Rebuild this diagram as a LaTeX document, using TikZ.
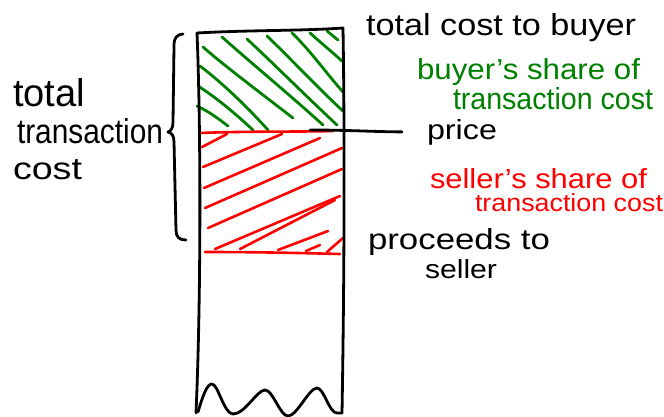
\documentclass[tikz,border=0pt]{standalone}
\usepackage{fontspec}
\setmainfont{Liberation Sans}
\usepackage{graphicx}
\definecolor{hgreen}{RGB}{0,128,0}
\definecolor{hred}{RGB}{255,0,0}
\newcommand{\fitwh}[3]{\resizebox{#1}{#2}{#3}}
\begin{document}
\begin{tikzpicture}[x=1pt,y=-1pt,
  ink/.style={line width=2.8pt, line cap=round, line join=round},
  gh/.style={line width=2.8pt, line cap=round, draw=hgreen},
  rh/.style={line width=2.6pt, line cap=round, draw=hred},
  lbl/.style={inner sep=0pt, outer sep=0pt, anchor=base west}]
\useasboundingbox[fill=white] (0,0) rectangle (664,416);

% green hatching (buyer's share)
\draw[gh] (197,106) .. controls (210,112) and (220,120) .. (228,126);
\draw[gh] (198,86) .. controls (220,100) and (240,118) .. (253,130);
\draw[gh] (200,66) .. controls (225,85) and (250,110) .. (268,130);
\draw[gh] (203,47) .. controls (220,62) and (250,85) .. (293,118);
\draw[gh] (222,37) .. controls (250,62) and (290,95) .. (323,125);
\draw[gh] (247,39) .. controls (275,65) and (310,100) .. (337,125);
\draw[gh] (267,36) .. controls (290,58) and (320,90) .. (343,111);
\draw[gh] (292,33) .. controls (310,50) and (330,78) .. (344,93);
\draw[gh] (310,33) .. controls (320,42) and (332,52) .. (342,61);
\draw[gh] (327,31) -- (338,40);

% red hatching (seller's share)
\draw[rh] (200,133) .. controls (250,131) and (300,132) .. (333,131);
\draw[rh] (202,147) -- (227,134);
\draw[rh] (203,167) -- (282,134);
\draw[rh] (204,188) -- (320,138);
\draw[rh] (205,208) -- (342,148);
\draw[rh] (208,228) -- (342,169);
\draw[rh] (215,249) -- (340,196);
\draw[rh] (240,249) -- (335,200);
\draw[rh] (278,250) -- (328,231);
\draw[rh] (306,251) -- (320,245);
\draw[rh] (327,252) -- (343,238);
\draw[rh] (205,252) .. controls (260,252) and (300,253) .. (340,254);

% column
\draw[ink] (197,33) .. controls (250,30) and (300,31) .. (343,28)
  .. controls (345,150) and (344,300) .. (342,413);
\draw[ink] (197,33) .. controls (201,130) and (201,300) .. (196,413);
\draw[ink] (198,412) .. controls (203,395) and (207,384) .. (212,384)
  .. controls (218,384) and (224,414) .. (233,414)
  .. controls (245,414) and (257,390) .. (265,390)
  .. controls (273,390) and (280,416) .. (288,416)
  .. controls (297,416) and (309,388) .. (317,388)
  .. controls (324,388) and (329,413) .. (337,413) -- (342,413);

% brace
\draw[ink] (183,34) .. controls (176,35) and (174,38) .. (174,46)
  -- (173,122) .. controls (173,128) and (171,131) .. (168,132)
  .. controls (172,133) and (174,136) .. (174,142)
  -- (176,230) .. controls (176,237) and (179,240) .. (186,240);

% labels
\node[lbl] (tcb) at (366,35) {\fitwh{270pt}{22pt}{total cost to buyer}};
\node[lbl, text=hgreen] (bs1) at (417,79) {\fitwh{223pt}{21pt}{buyer's share of}};
\node[lbl, text=hgreen] (bs2) at (453,109) {\fitwh{200pt}{22pt}{transaction cost}};
\node[lbl] (price) at (427,139) {\fitwh{70pt}{20pt}{price}};
\node[lbl, text=hred] (ss1) at (430,188) {\fitwh{217pt}{20pt}{seller's share of}};
\node[lbl, text=hred] (ss2) at (475,211) {\fitwh{188pt}{18pt}{transaction cost}};
\node[lbl] (pro1) at (368,249) {\fitwh{182pt}{21pt}{proceeds to}};
\node[lbl] (pro2) at (425,278) {\fitwh{72pt}{19pt}{seller}};
\node[lbl] (ttc1) at (13,106) {\fitwh{72pt}{28pt}{total}};
\node[lbl] (ttc2) at (17,143) {\fitwh{146pt}{25pt}{transaction}};
\node[lbl] (ttc3) at (13,179) {\fitwh{69pt}{20pt}{cost}};

% price line
\coordinate (pl) at (310,130);
\draw[ink] (pl) .. controls (350,130) and (380,132) .. ([xshift=-25pt]price.west);
\end{tikzpicture}
\end{document}
